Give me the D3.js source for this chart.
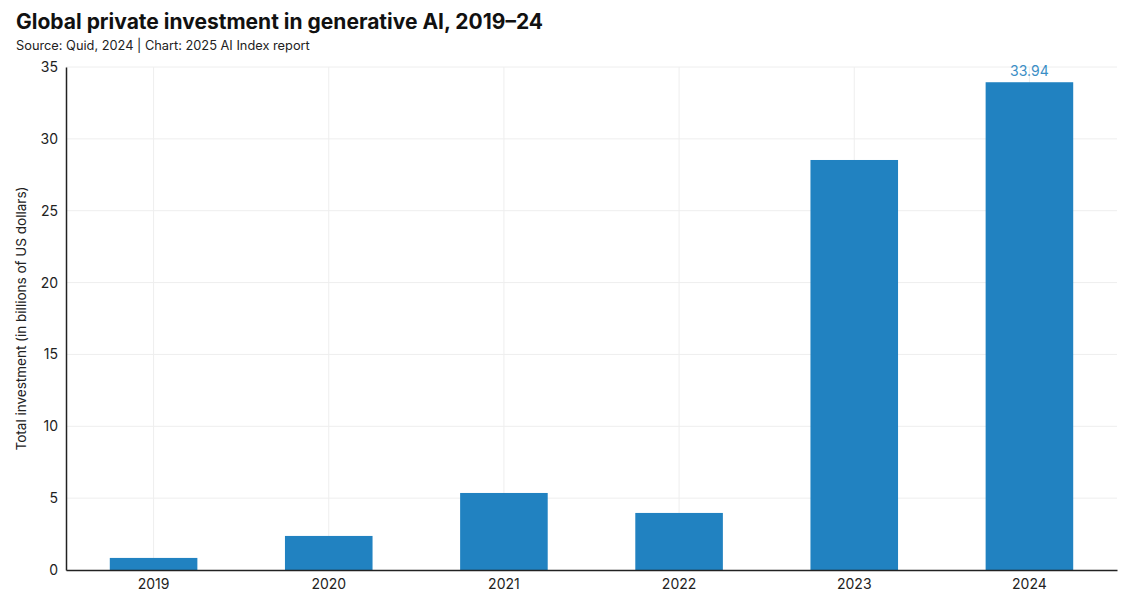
<!DOCTYPE html>
<html><head><meta charset="utf-8">
<script src="https://cdn.jsdelivr.net/npm/d3@7"></script>
<style>body{margin:0;background:#fff;font-family:Inter,"Noto Sans",sans-serif;}</style>
</head><body><svg id="c" width="1129" height="612"></svg>
<script>
const years = ["2019","2020","2021","2022","2023","2024"];
const investment = [0.84, 2.37, 5.36, 3.97, 28.53, 33.94];
const yTicks = [0,5,10,15,20,25,30,35];
const titleText = "Global private investment in generative AI, 2019–24";
const subtitleText = "Source: Quid, 2024 | Chart: 2025 AI Index report";
const yLabel = "Total investment (in billions of US dollars)";

const svg = d3.select("#c");
const m = {l:66, r:1117, t:67, b:570};
const x = d3.scaleBand().domain(years).range([m.l, m.r]).paddingInner(0.5).paddingOuter(0.25);
const y = d3.scaleLinear().domain([0,35]).range([m.b, m.t]);

svg.append("text").attr("x",16).attr("y",29).attr("font-size",21).attr("font-weight",700).attr("fill","#111").text(titleText);
svg.append("text").attr("x",16).attr("y",50).attr("font-size",12.8).attr("fill","#222").text(subtitleText);

// grid
svg.append("g").selectAll("line.h").data(yTicks.slice(1)).join("line")
  .attr("x1",m.l).attr("x2",m.r).attr("y1",d=>y(d)).attr("y2",d=>y(d)).attr("stroke","#eeeeee").attr("stroke-width",1);
svg.append("g").selectAll("line.v").data(years).join("line")
  .attr("x1",d=>x(d)+x.bandwidth()/2).attr("x2",d=>x(d)+x.bandwidth()/2).attr("y1",m.t).attr("y2",m.b).attr("stroke","#eeeeee").attr("stroke-width",1);

// bars
svg.append("g").selectAll("rect").data(years).join("rect")
  .attr("x",d=>x(d)).attr("width",x.bandwidth())
  .attr("y",(d,i)=>y(investment[i])).attr("height",(d,i)=>y(0)-y(investment[i]))
  .attr("fill","#2182c1");

// label last
const li = years.length-1;
svg.append("text").attr("x",x(years[li])+x.bandwidth()/2).attr("y",y(investment[li])-6)
  .attr("text-anchor","middle").attr("font-size",14).attr("fill","#3a8ec6").text(investment[li].toFixed(2));

// axes
const ya = svg.append("g").attr("transform",`translate(${m.l},0)`).call(d3.axisLeft(y).tickValues(yTicks).tickSize(0).tickPadding(8));
ya.select(".domain").attr("stroke","#222").attr("stroke-width",1.5);
ya.selectAll("text").attr("font-size",14).attr("fill","#222").attr("font-family","Inter,sans-serif");
const xa = svg.append("g").attr("transform",`translate(0,${m.b})`).call(d3.axisBottom(x).tickSize(0).tickPadding(9));
xa.select(".domain").attr("stroke","#222").attr("stroke-width",1.5);
xa.selectAll("text").attr("font-size",14).attr("fill","#222").attr("font-family","Inter,sans-serif");

svg.append("text").attr("transform",`translate(26,${(m.t+m.b)/2}) rotate(-90)`).attr("text-anchor","middle")
  .attr("font-size",13.5).attr("fill","#222").text(yLabel);
</script></body></html>
